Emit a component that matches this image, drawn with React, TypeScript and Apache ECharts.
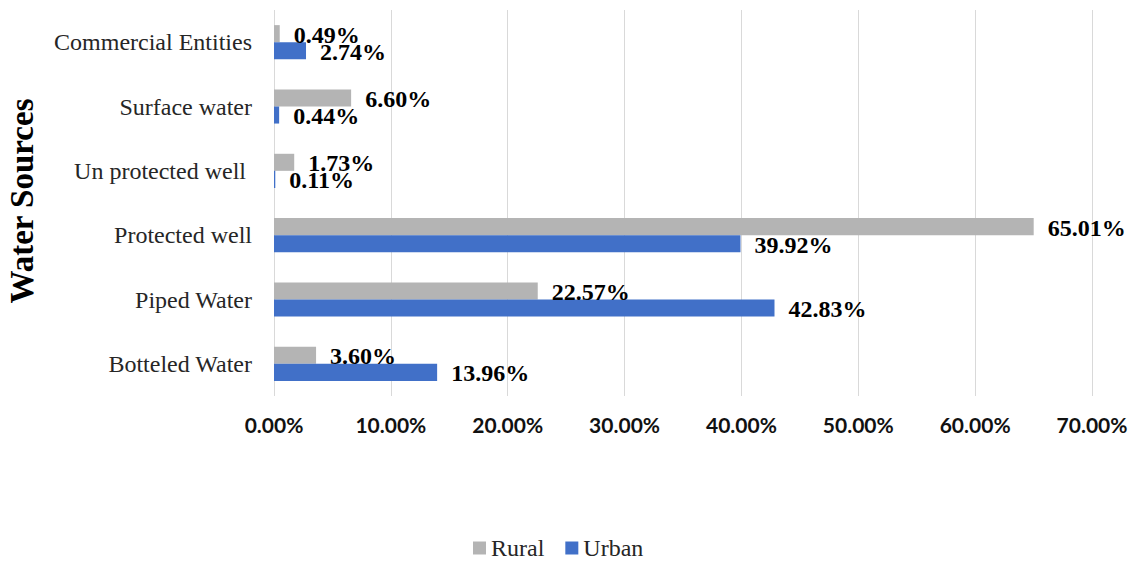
import React, { useEffect, useRef } from "react";
import * as echarts from "echarts";

const categories = [
  "Botteled Water",
  "Piped Water",
  "Protected well",
  "Un protected well ",
  "Surface water",
  "Commercial Entities",
];
const ruralValues = [3.6, 22.57, 65.01, 1.73, 6.6, 0.49];
const urbanValues = [13.96, 42.83, 39.92, 0.11, 0.44, 2.74];
const xTicks = { min: 0, max: 70, interval: 10 };
const axisTitle = "Water Sources";

const RURAL = "#B4B4B4";
const URBAN = "#4170C8";
const SERIF = "'Liberation Serif', 'Times New Roman', serif";

export default function App() {
  const ref = useRef<HTMLDivElement>(null);
  useEffect(() => {
    if (!ref.current) return;
    const chart = echarts.init(ref.current, null, { renderer: "svg" });
    const label = {
      show: true,
      position: "right",
      distance: 14,
      offset: [0, 1],
      fontFamily: SERIF,
      fontWeight: "bold",
      fontSize: 24,
      color: "#000",
      formatter: (p: any) => p.value.toFixed(2) + "%",
    };
    chart.setOption({
      animation: false,
      grid: { left: 274, right: 44, top: 10, height: 386, containLabel: false },
      legend: {
        data: ["Rural", "Urban"],
        left: 473,
        top: 536,
        padding: 0,
        itemWidth: 13,
        itemHeight: 13,
        itemGap: 21,
        icon: "rect",
        textStyle: { fontFamily: SERIF, fontSize: 24, color: "#262626" },
      },
      xAxis: {
        type: "value",
        min: xTicks.min,
        max: xTicks.max,
        interval: xTicks.interval,
        axisLine: { show: false },
        axisTick: { show: false },
        splitLine: { show: true, lineStyle: { color: "#D9D9D9", width: 1 } },
        axisLabel: {
          margin: 18,
          fontFamily: "Lato, sans-serif",
          fontWeight: "bold",
          fontSize: 21,
          color: "#111",
          formatter: (v: number) => v.toFixed(2) + "%",
        },
      },
      yAxis: {
        type: "category",
        data: categories,
        axisLine: { show: false },
        axisTick: { show: false },
        axisLabel: {
          margin: 22,
          fontFamily: SERIF,
          fontSize: 24,
          color: "#262626",
        },
      },
      graphic: [
        {
          type: "text",
          x: 22,
          y: 201,
          rotation: Math.PI / 2,
          style: {
            text: axisTitle,
            fontFamily: SERIF,
            fontWeight: "bold",
            fontSize: 33,
            fill: "#000",
            textAlign: "center",
            textVerticalAlign: "middle",
          },
        },
      ],
      series: [
        {
          name: "Rural",
          type: "bar",
          data: ruralValues,
          itemStyle: { color: RURAL },
          barGap: "0%",
          barCategoryGap: "47%",
          label,
        },
        {
          name: "Urban",
          type: "bar",
          data: urbanValues,
          itemStyle: { color: URBAN },
          barGap: "0%",
          barCategoryGap: "47%",
          label,
        },
      ],
    });
    return () => chart.dispose();
  }, []);
  return (
    <div
      ref={ref}
      style={{ position: "fixed", left: 0, top: 0, width: 1136, height: 564, background: "#fff" }}
    />
  );
}
